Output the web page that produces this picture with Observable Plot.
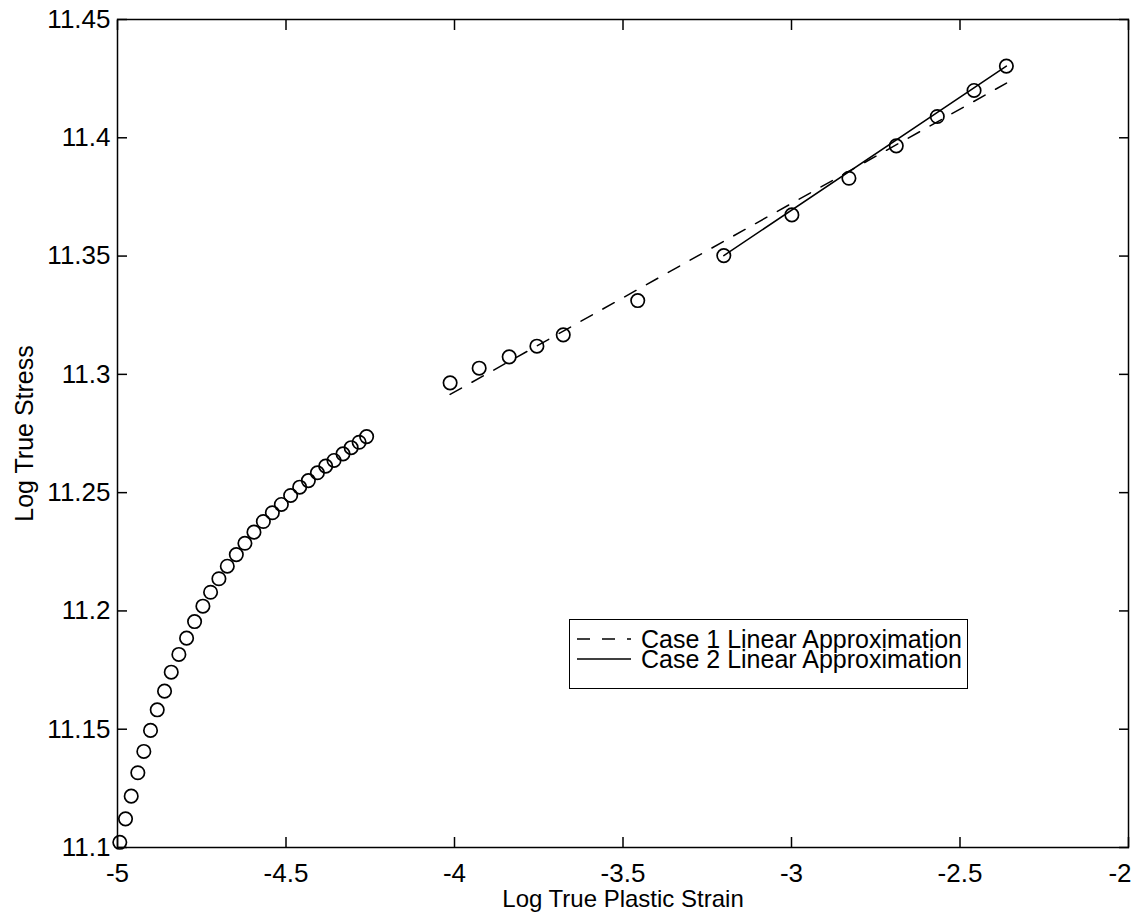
<!DOCTYPE html>
<html>
<head>
<meta charset="utf-8">
<script src="https://cdn.jsdelivr.net/npm/d3@7"></script>
<script src="https://cdn.jsdelivr.net/npm/@observablehq/plot@0.6"></script>
<style>
  html, body { margin: 0; padding: 0; background: #fff; }
  #wrap { position: relative; width: 1136px; height: 922px; font-family: "Liberation Sans", Arial, Helvetica, sans-serif; }
  #legend { position: absolute; left: 569px; top: 619px; width: 399px; height: 70px; border: 1.5px solid #000; background: #fff; box-sizing: border-box; }
  .row { position: absolute; left: 0; height: 20px; display: flex; align-items: center; font-size: 25px; line-height: 20px; color: #000; white-space: nowrap; }
  .row svg { margin-left: 7px; margin-right: 10px; flex: none; }
</style>
</head>
<body>
<div id="wrap"></div>
<script>
// Early strain-hardening data points
const earlyStrain = [-4.9932, -4.9762, -4.9593, -4.9397, -4.9219, -4.9020, -4.8821, -4.8604, -4.8405, -4.8179,
  -4.7950, -4.7713, -4.7466, -4.7238, -4.6991, -4.6742, -4.6474, -4.6219, -4.5951, -4.5672,
  -4.5405, -4.5138, -4.4862, -4.4594, -4.4336, -4.4068, -4.3822, -4.3575, -4.3308, -4.3066,
  -4.2830, -4.2608];
const earlyStress = [11.1022, 11.1121, 11.1217, 11.1316, 11.1406, 11.1495, 11.1582, 11.1661, 11.1741, 11.1816,
  11.1885, 11.1955, 11.2020, 11.2079, 11.2136, 11.2189, 11.2238, 11.2286, 11.2333, 11.2378,
  11.2415, 11.2450, 11.2488, 11.2523, 11.2551, 11.2584, 11.2612, 11.2636, 11.2664, 11.2690,
  11.2713, 11.2737];
// Later data points
const lateStrain = [-4.0130, -3.9268, -3.8377, -3.7555, -3.6773, -3.4563, -3.2009, -2.9989, -2.8296, -2.6891, -2.5674, -2.4583, -2.3624];
const lateStress = [11.2964, 11.3026, 11.3074, 11.3119, 11.3167, 11.3312, 11.3502, 11.3674, 11.3829, 11.3966, 11.4090, 11.4200, 11.4303];
// Linear approximations (end points)
const case1Strain = [-4.013, -2.362];
const case1Stress = [11.2915, 11.4231];
const case2Strain = [-3.2009, -2.3624];
const case2Stress = [11.3502, 11.4303];
// Ticks
const xTicks = [-5, -4.5, -4, -3.5, -3, -2.5, -2];
const xTickLabels = ["-5", "-4.5", "-4", "-3.5", "-3", "-2.5", "-2"];
const yTicks = [11.1, 11.15, 11.2, 11.25, 11.3, 11.35, 11.4, 11.45];
const yTickLabels = ["11.1", "11.15", "11.2", "11.25", "11.3", "11.35", "11.4", "11.45"];
const legendLabels = ["Case 1 Linear Approximation", "Case 2 Linear Approximation"];
const xLabel = "Log True Plastic Strain";
const yLabel = "Log True Stress";

const points = earlyStrain.map((x, i) => ({x, y: earlyStress[i]}))
  .concat(lateStrain.map((x, i) => ({x, y: lateStress[i]})));
const case1 = case1Strain.map((x, i) => ({x, y: case1Stress[i]}));
const case2 = case2Strain.map((x, i) => ({x, y: case2Stress[i]}));
const xTickData = xTicks.map((x, i) => ({x, label: xTickLabels[i]}));
const lastTick = xTickData.length - 1;

const font = "'Liberation Sans', Arial, Helvetica, sans-serif";
const blank = () => "";

const chart = Plot.plot({
  width: 1136,
  height: 922,
  marginLeft: 117,
  marginRight: 8,
  marginTop: 19,
  marginBottom: 75,
  style: {fontFamily: font, fontSize: "26px", color: "#000", background: "#fff"},
  x: {domain: [-5, -2]},
  y: {domain: [11.1, 11.45]},
  marks: [
    Plot.line(case1, {x: "x", y: "y", stroke: "#000", strokeWidth: 1.5, strokeDasharray: "13,12"}),
    Plot.line(case2, {x: "x", y: "y", stroke: "#000", strokeWidth: 1.5}),
    Plot.dot(points, {x: "x", y: "y", r: 6.7, stroke: "#000", strokeWidth: 1.7, fill: "none"}),
    Plot.frame({stroke: "#000", strokeWidth: 1.5}),
    // x tick labels (last one right-aligned so it stays in the picture)
    Plot.text(xTickData.slice(0, lastTick), {x: "x", frameAnchor: "bottom", dy: 26, lineAnchor: "middle", text: "label", fontSize: 26, fill: "#000"}),
    Plot.text(xTickData.slice(lastTick), {x: "x", frameAnchor: "bottom", dy: 26, dx: 3, lineAnchor: "middle", textAnchor: "end", text: "label", fontSize: 26, fill: "#000"}),
    // y tick labels
    Plot.axisY({anchor: "left", ticks: yTicks, tickSize: 0, tickPadding: 7, tickFormat: (d, i) => yTickLabels[i], label: null, fontSize: 26}),
    // inward ticks on all four sides
    Plot.axisX({anchor: "bottom", ticks: xTicks, tickSize: -10, tickFormat: blank, label: null, strokeWidth: 1.5}),
    Plot.axisX({anchor: "top", ticks: xTicks, tickSize: -10, tickFormat: blank, label: null, strokeWidth: 1.5}),
    Plot.axisY({anchor: "left", ticks: yTicks, tickSize: -10, tickFormat: blank, label: null, strokeWidth: 1.5}),
    Plot.axisY({anchor: "right", ticks: yTicks, tickSize: -10, tickFormat: blank, label: null, strokeWidth: 1.5}),
    // axis titles
    Plot.text([xLabel], {frameAnchor: "bottom", dy: 52, lineAnchor: "middle", textAnchor: "middle", text: d => d, fontSize: 24, fill: "#000"}),
    Plot.text([yLabel], {frameAnchor: "left", dx: -93, rotate: -90, lineAnchor: "middle", textAnchor: "middle", text: d => d, fontSize: 25, fill: "#000"})
  ]
});

const wrap = document.getElementById("wrap");
wrap.appendChild(chart);

// Legend
const legend = document.createElement("div");
legend.id = "legend";
const dashes = ["13,12", null];
legendLabels.forEach((lab, i) => {
  const row = document.createElement("div");
  row.className = "row";
  row.style.top = (9 + i * 20) + "px";
  const s = d3.create("svg").attr("width", 54).attr("height", 20);
  s.append("line").attr("x1", 0).attr("x2", 54).attr("y1", 10).attr("y2", 10)
    .attr("stroke", "#000").attr("stroke-width", 1.5).attr("stroke-dasharray", dashes[i]);
  row.appendChild(s.node());
  const t = document.createElement("span");
  t.textContent = lab;
  row.appendChild(t);
  legend.appendChild(row);
});
wrap.appendChild(legend);
</script>
</body>
</html>
